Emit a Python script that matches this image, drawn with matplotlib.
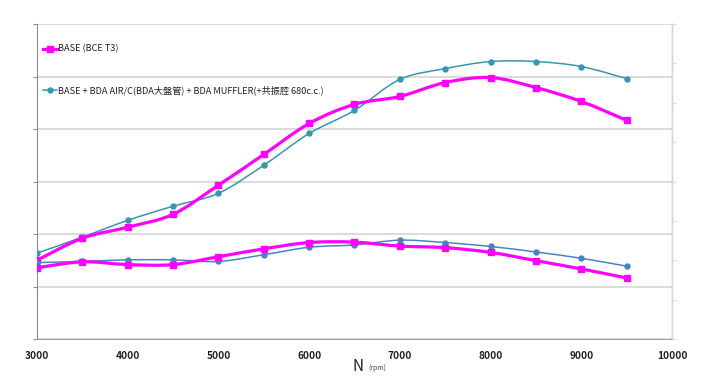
import numpy as np
import matplotlib
matplotlib.use('Agg')
import matplotlib.pyplot as plt
from matplotlib.path import Path
from matplotlib.patches import PathPatch
from matplotlib.lines import Line2D

plt.rcParams['font.family'] = ['Noto Sans CJK TC', 'DejaVu Sans']

# rpm points
rpm = [3000, 3500, 4000, 4500, 5000, 5500, 6000, 6500, 7000, 7500, 8000, 8500, 9000, 9500]

# power (left axis, arbitrary units, labels hidden)
power_base = [3.00, 3.84, 4.26, 4.75, 5.86, 7.03, 8.21, 8.94, 9.24, 9.77, 9.96, 9.58, 9.05, 8.33]
power_bda = [3.27, 3.88, 4.52, 5.06, 5.55, 6.62, 7.83, 8.71, 9.89, 10.30, 10.57, 10.57, 10.38, 9.92]

# torque (right axis, arbitrary units, labels hidden)
torque_base = [1.81, 1.96, 1.89, 1.89, 2.09, 2.29, 2.45, 2.46, 2.36, 2.32, 2.20, 1.99, 1.78, 1.55]
torque_bda = [1.94, 1.97, 2.01, 2.01, 1.97, 2.14, 2.33, 2.39, 2.51, 2.45, 2.35, 2.21, 2.05, 1.85]

labels = ['BASE (BCE T3)',
          'BASE + BDA AIR/C(BDA大盤管) + BDA MUFFLER(+共振腔 680c.c.)']

MAGENTA = '#FF00FF'
TEAL = '#3A95AE'
BLUE = '#4A84C0'
GRID = '#D4D4D4'


def smooth_path(x, y):
    # excel style smoothed line, bezier through every point
    pts = np.column_stack([x, y]).astype(float)
    verts = [pts[0]]
    codes = [Path.MOVETO]
    n = len(pts)
    for i in range(n - 1):
        p0 = pts[i - 1] if i > 0 else pts[i]
        p3 = pts[i + 2] if i + 2 < n else pts[i + 1]
        c1 = pts[i] + (pts[i + 1] - p0) / 6.0
        c2 = pts[i + 1] - (p3 - pts[i]) / 6.0
        verts += [c1, c2, pts[i + 1]]
        codes += [Path.CURVE4] * 3
    return Path(verts, codes)


def draw(ax, y, color, lw, marker, ms, z):
    ax.add_patch(PathPatch(smooth_path(rpm, y), fill=False, edgecolor=color,
                           lw=lw, zorder=z, capstyle='round', joinstyle='round'))
    ax.plot(rpm, y, ls='none', marker=marker, ms=ms, color=color, zorder=z + 0.1)


fig = plt.figure(figsize=(7.2, 3.8), dpi=100)
ax = fig.add_axes([0.0514, 0.1079, 0.8819, 0.8289])
ax2 = ax.twinx()

ax.set_xlim(3000, 10000)
ax.set_ylim(0, 12)
ax2.set_ylim(0, 8)
ax.set_xticks(range(3000, 10001, 1000))
ax.set_yticks(range(0, 13, 2))
ax2.set_yticks(range(0, 9, 1))
ax.set_yticklabels([])
ax2.set_yticklabels([])

ax.grid(axis='y', color=GRID, lw=1.2)
ax.set_axisbelow(True)

for s in ['top']:
    ax.spines[s].set_visible(False)
    ax2.spines[s].set_visible(False)
ax.spines['left'].set_color('#8C8C8C')
ax.spines['bottom'].set_color('#A6A6A6')
ax2.spines['right'].set_color('#DADADA')
ax2.spines['left'].set_visible(False)
ax2.spines['bottom'].set_visible(False)

ax.tick_params(axis='y', length=3, color='#8C8C8C')
ax.tick_params(axis='x', length=0, pad=9, labelsize=7.3, labelcolor='#222222')
for t in ax.get_xticklabels():
    t.set_fontweight('bold')
ax2.tick_params(axis='y', length=3, color='#DADADA')

draw(ax, power_bda, TEAL, 1.1, 'o', 3.6, 3)
draw(ax, power_base, MAGENTA, 2.3, 's', 5, 4)
draw(ax2, torque_bda, BLUE, 1.1, 'o', 3.6, 3)
draw(ax2, torque_base, MAGENTA, 2.3, 's', 5, 4)

# x axis title
fig.text(0.497, 0.035, 'N', fontsize=11, ha='center', va='center', color='#222222')
fig.text(0.512, 0.032, '(rpm)', fontsize=5, style='italic', ha='left', va='center', color='#444444')

# legend, two rows spaced apart
h1 = Line2D([], [], color=MAGENTA, lw=2.3, marker='s', ms=5)
h2 = Line2D([], [], color=TEAL, lw=1.1, marker='o', ms=3.6)
ax.legend([h1, h2], labels, loc='upper left', bbox_to_anchor=(0.0, 0.955),
          frameon=False, fontsize=6.6, handlelength=1.5, handletextpad=0.1,
          labelspacing=3.5, borderaxespad=0.3, labelcolor='#222222')

fig.savefig('out.png', dpi=100)
